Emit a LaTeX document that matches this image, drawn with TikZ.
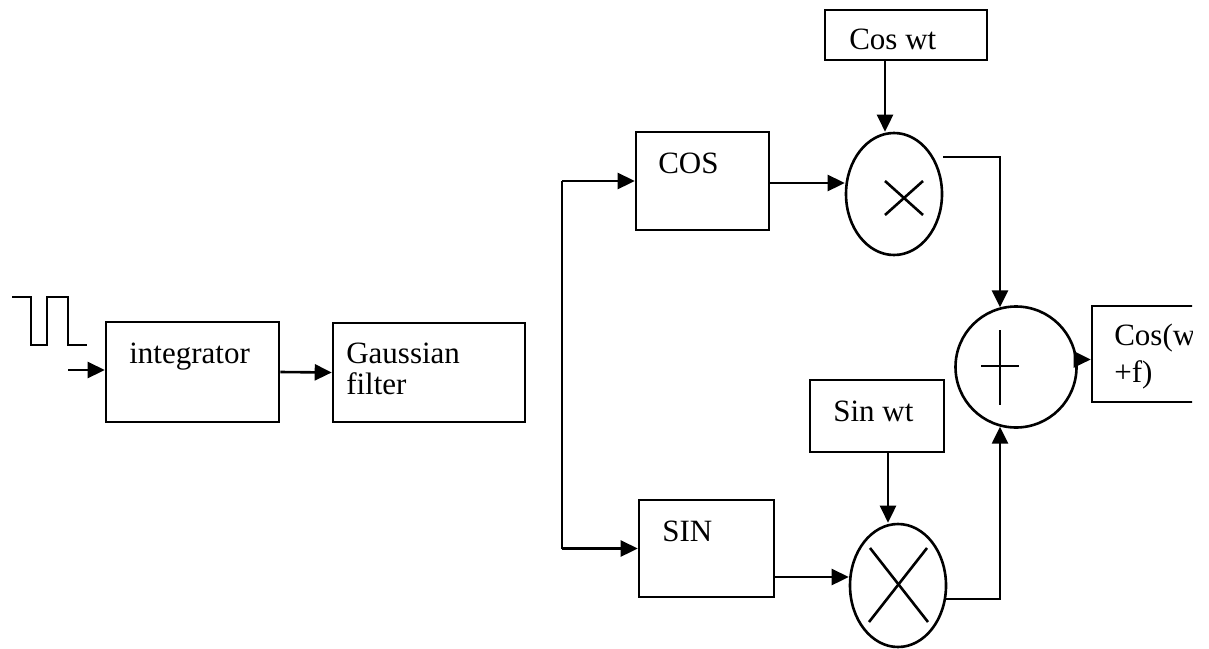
\documentclass[tikz,border=0pt]{standalone}
\usepackage{fontspec}
\setmainfont{Liberation Serif}
\usetikzlibrary{arrows.meta,calc,shapes.geometric}
\begin{document}
\begin{tikzpicture}[x=0.5pt,y=-0.5pt,
  line width=1.3pt,
  blk/.style={draw, rectangle, inner sep=0pt},
  mix/.style={draw, ellipse, inner sep=0pt, minimum width=48pt, minimum height=61pt},
  sumnode/.style={draw, circle, inner sep=0pt, minimum size=60.5pt},
  lbl/.style={anchor=base west, inner sep=0pt, font=\fontsize{15.5pt}{18pt}\selectfont},
  arr/.style={-{Triangle[length=8.5pt,width=8pt]}},
]
\useasboundingbox (0,0) rectangle (1209,648);
\clip (0,0) rectangle (1209,648);

% input pulse train
\draw (12,297) -- (31,297) -- (31,345) -- (47,345) -- (47,297)
      -- (68,297) -- (68,345) -- (87,345);

% blocks
\node[blk, minimum width=86.5pt, minimum height=50pt] (int) at (192.5,372) {};
\node[blk, minimum width=96pt, minimum height=49.5pt] (gau) at (429,372.5) {};
\node[blk, minimum width=66.5pt, minimum height=49pt] (cos) at (702.5,181) {};
\node[blk, minimum width=67.5pt, minimum height=48.5pt] (sin) at (706.5,548.5) {};
\node[blk, minimum width=81pt, minimum height=25pt] (coswt) at (906,35) {};
\node[blk, minimum width=67pt, minimum height=36pt] (sinwt) at (877,416) {};

% multipliers and adder
\node[mix] (m1) at (894,194) {};
\node[mix, minimum height=61.5pt] (m2) at (898,585.5) {};
\node[sumnode] (add) at (1016,367) {};

% output block, cut at the right edge
\begin{scope}
  \clip (0,0) rectangle (1192,648);
  \node[blk, minimum width=84pt, minimum height=48pt] (out) at (1176,354) {};
  \node[lbl] (tout1) at (1113,345) {Cos(wt};
  \node[lbl] (tout2) at (1113,382) {+f)};
\end{scope}

% symbols inside the circles
\draw (885,181) -- (923,215);
\draw (885,215) -- (923,181);
\draw (870,548) -- (928,622);
\draw (927,548) -- (869,622);
\draw (1000,330) -- (1000,405);
\draw (981,366) -- (1019,366);

% labels
\node[lbl] (tint) at (128,363) {integrator};
\node[lbl] (tgau1) at (345,363) {Gaussian};
\node[lbl] (tgau2) at (345,394) {filter};
\node[lbl] (tcos) at (657,173) {COS};
\node[lbl] (tsin) at (661,541) {SIN};
\node[lbl] (tcoswt) at (848,49) {Cos wt};
\node[lbl] (tsinwt) at (832,421) {Sin wt};

% connectors
\coordinate (in) at (68,370);
\draw[arr] (in) -- (in -| int.west);
\draw[arr] (int.east) -- (gau.west);

\coordinate (sp) at (562,0);
\draw (sp |- cos.west) -- (sp |- sin.west);
\draw[arr] (sp |- cos.west) -- (cos.west);
\draw[arr] (sp |- sin.west) -- (sin.west);

\coordinate (c1) at ($(cos.east)+(0,2)$);
\draw[arr] (c1) -- (c1 -| m1.west);
\coordinate (s1) at ($(sin.east)+(0,28.5)$);
\draw[arr] (s1) -- (s1 -| m2.west);

\coordinate (cw) at ($(coswt.south)+(-21,0)$);
\draw[arr] (cw) -- (cw |- m1.north);
\coordinate (sw) at ($(sinwt.south)+(11,0)$);
\draw[arr] (sw) -- (sw |- m2.north);

\coordinate (o1) at ($(m1.east)+(0,-37)$);
\draw[arr] (o1) -| (add.105);
\coordinate (o2) at ($(m2.east)+(-1,13.5)$);
\draw[arr] (o2) -| (add.255);

\draw[arr] (add.7) -- (add.7 -| out.west);
\end{tikzpicture}
\end{document}
